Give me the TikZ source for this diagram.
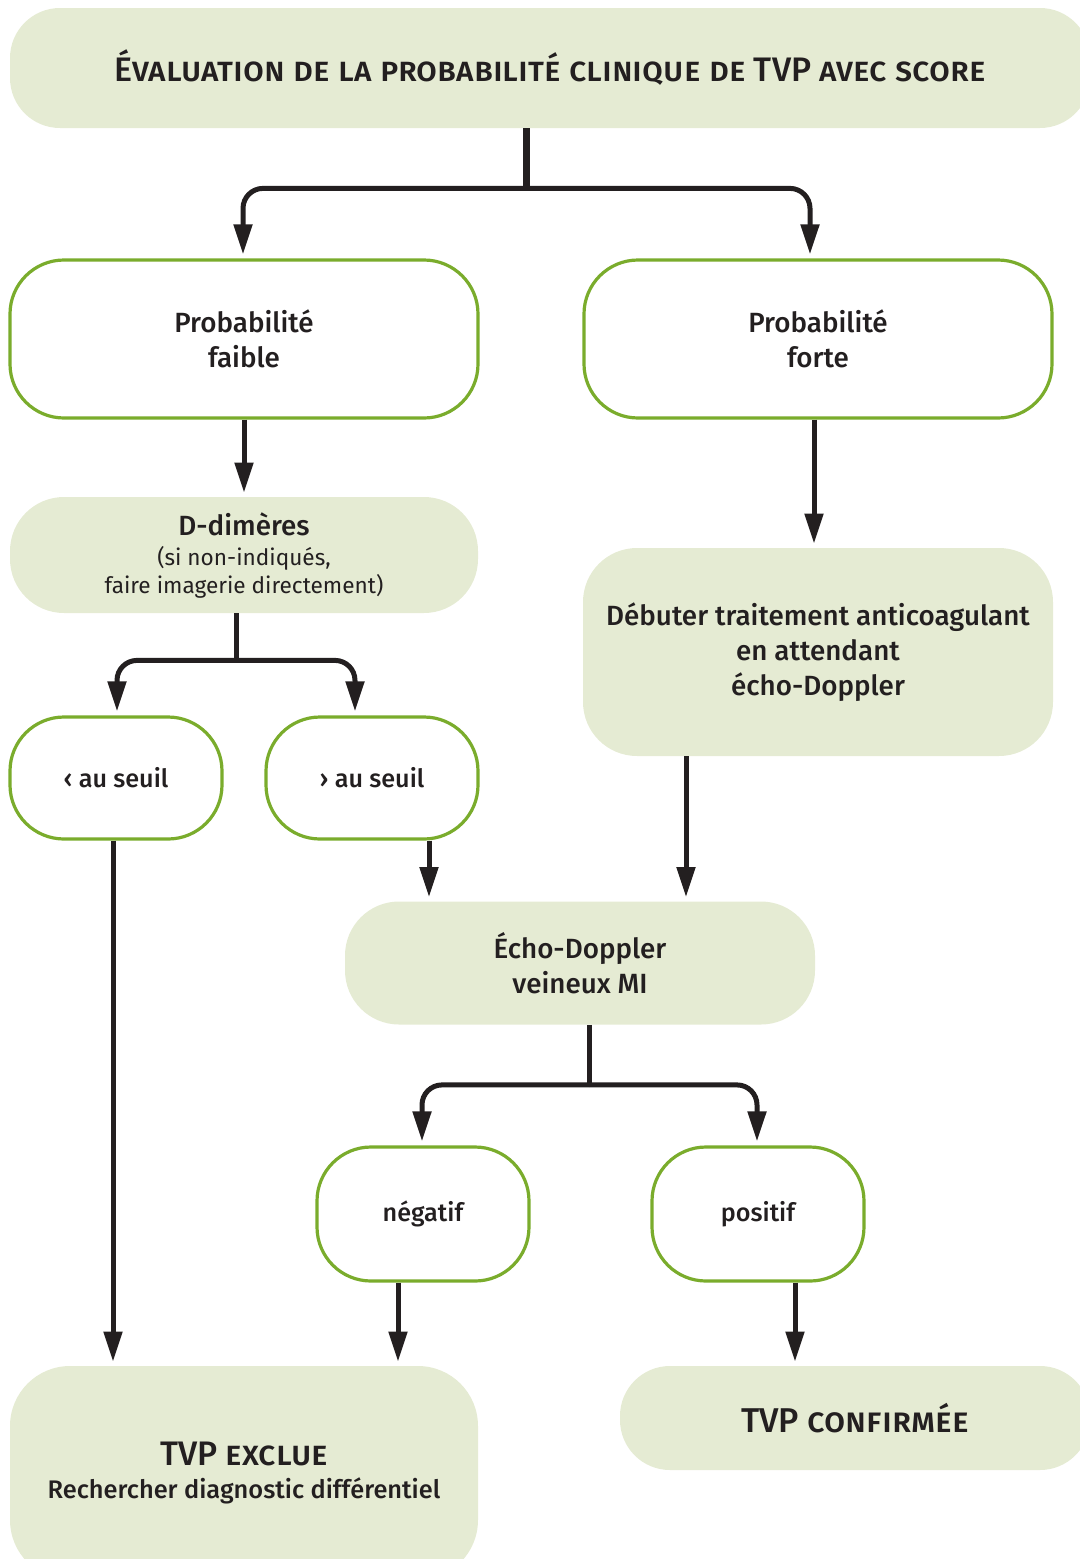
\documentclass[tikz,border=0pt]{standalone}
\usepackage{fontspec}
\setmainfont{Fira Sans}
\IfFontExistsTF{Fira Sans Medium}{\newfontfamily\moyen{Fira Sans Medium}}{\newcommand\moyen{\bfseries}}
\newcommand\maigre{\normalfont\fontsize{11.3}{14}\selectfont}
\usetikzlibrary{arrows.meta,calc,positioning}
\definecolor{vertpale}{RGB}{229,235,211}
\definecolor{vertbord}{RGB}{122,172,44}
\definecolor{encre}{RGB}{35,31,32}
\tikzset{
	boite/.style={rounded corners=27pt,align=center,text=encre,inner sep=0pt,
		font=\moyen\fontsize{13.9}{17.5}\selectfont},
	pleine/.style={boite,fill=vertpale},
	cadre/.style={boite,draw=vertbord,line width=1.6pt,fill=white},
	petitcadre/.style={cadre,font=\moyen\fontsize{12.6}{17.5}\selectfont},
	fleche/.style={-{Triangle[length=15pt,width=9pt]},line width=2.5pt,draw=encre,
		rounded corners=10pt,shorten >=2pt},
	tige/.style={line width=2.5pt,draw=encre},
}

\begin{document}
\begin{tikzpicture}[x=0.5pt,y=-0.5pt,line join=round,line cap=butt]
		\useasboundingbox (0,0) rectangle (1080,1559);
		\clip (0,0) rectangle (1080,1559);
		% boites
		\node[pleine,minimum width=540pt,minimum height=60pt,rounded corners=25pt] (titre) at (550,68)
			{\fontsize{17}{20}\selectfont\textsc{Évaluation de la probabilité clinique de TVP avec score}};
		\node[cadre,minimum width=234pt,minimum height=79pt] (faible) at (244,339) {Probabilité\\faible};
		\node[cadre,minimum width=234pt,minimum height=79pt] (forte) at (818,339) {Probabilité\\forte};
		\node[pleine,minimum width=234pt,minimum height=58pt] (ddim) at (244,555)
			{D-dimères\\[-2.5pt]\maigre (si non-indiqués,\\[-3.5pt]\maigre faire imagerie directement)};
		\node[pleine,minimum width=235pt,minimum height=104pt] (debuter) at (818,652)
			{Débuter traitement anticoagulant\\en attendant\\écho-Doppler};
		\node[petitcadre,minimum width=106pt,minimum height=61pt] (infseuil) at (116,778) {‹ au seuil};
		\node[petitcadre,minimum width=106pt,minimum height=61pt] (supseuil) at (372,778) {› au seuil};
		\node[pleine,minimum width=235pt,minimum height=61.5pt] (echo) at (580,963) {Écho-Doppler\\veineux MI};
		\node[petitcadre,minimum width=106pt,minimum height=67pt] (negatif) at (423,1214) {négatif};
		\node[petitcadre,minimum width=106pt,minimum height=67pt] (positif) at (758,1214) {positif};
		\node[pleine,minimum width=234pt,minimum height=107pt,rounded corners=30pt] (exclue) at (244,1473)
			{\fontsize{17}{18}\selectfont\textsc{TVP exclue}\\[-1pt]\fontsize{12.7}{15}\selectfont Rechercher diagnostic différentiel};
		\node[pleine,minimum width=235pt,minimum height=52pt,rounded corners=25pt] (confirmee) at (855,1418)
			{\fontsize{17.2}{18}\selectfont\textsc{TVP confirmée}};
		% fourches
		\draw[tige,line width=3.5pt] ([xshift=-12pt]titre.south) -- ++(0,60) coordinate (ftitre);
		\draw[fleche] (ftitre) -| ([xshift=-0.5pt]faible.north);
		\draw[fleche] (ftitre) -| ([xshift=-4pt]forte.north);
		\draw[tige] ([xshift=-4pt]ddim.south) -- ++(0,47) coordinate (fddim);
		\draw[fleche] (fddim) -| ([xshift=0.5pt]infseuil.north);
		\draw[fleche] (fddim) -| ([xshift=-8.5pt]supseuil.north);
		\draw[tige] ([xshift=4.5pt]echo.south) -- ++(0,60) coordinate (fecho);
		\draw[fleche] (fecho) -| ([xshift=-0.5pt]negatif.north);
		\draw[fleche] (fecho) -| ([xshift=-0.5pt]positif.north);
		% fleches droites
		\draw[fleche] (faible) -- (ddim);
		\draw[fleche] ([xshift=-2pt]forte.south) -- ([xshift=-2pt]forte.south |- debuter.north);
		\draw[fleche] ([xshift=-1.5pt]infseuil.south) -- ([xshift=-1.5pt]infseuil.south |- exclue.north);
		\draw[fleche] ([xshift=28.5pt]supseuil.south) -- ([xshift=28.5pt]supseuil.south |- echo.north);
		\draw[fleche] ([xshift=-66pt]debuter.south) -- ([xshift=-66pt]debuter.south |- echo.north);
		\draw[fleche] ([xshift=-12.5pt]negatif.south) -- ([xshift=-12.5pt]negatif.south |- exclue.north);
		\draw[fleche] ([xshift=18.5pt]positif.south) -- ([xshift=18.5pt]positif.south |- confirmee.north);
\end{tikzpicture}
\end{document}
